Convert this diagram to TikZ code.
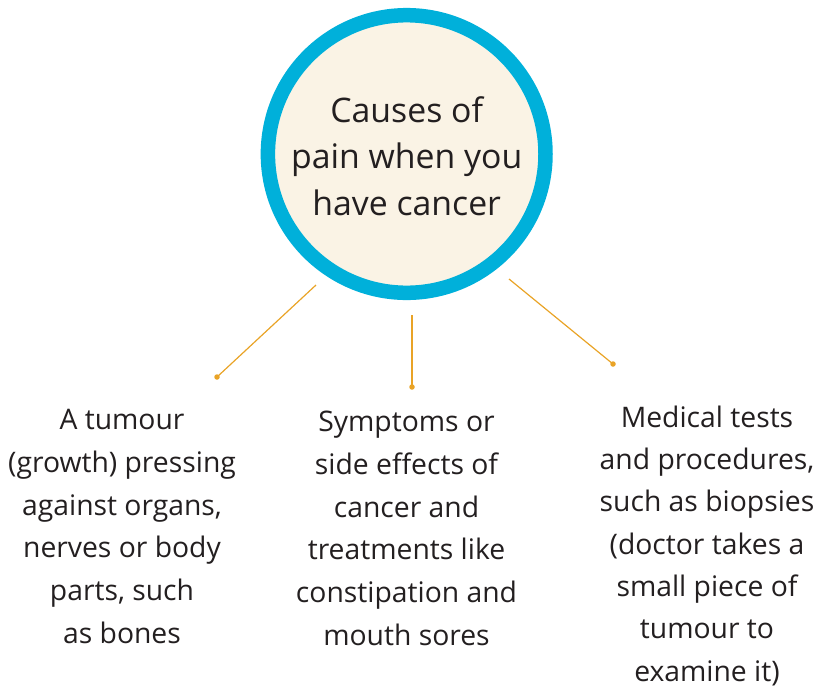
\documentclass[tikz,border=0pt]{standalone}
\usepackage{fontspec}
\setmainfont{Open Sans}
\definecolor{ringblue}{HTML}{00B0DA}
\definecolor{cream}{HTML}{FAF3E5}
\definecolor{linegold}{HTML}{E9A326}
\definecolor{txt}{HTML}{231F20}
\begin{document}
\begin{tikzpicture}[x=1pt,y=-1pt,
  hub/.style={circle,draw=ringblue,line width=14.5pt,fill=cream,minimum size=277.6pt,inner sep=0pt,
    text=txt,align=center,font=\fontsize{33.8}{46.5}\selectfont},
  leaf/.style={anchor=north,inner sep=0pt,align=center,text=txt,font=\fontsize{28.3}{42.9}\selectfont},
  tightleaf/.style={leaf,font=\fontsize{28.3}{42.3}\selectfont},
  link/.style={draw=linegold,line width=1.2pt},
  tip/.style={circle,fill=linegold,inner sep=0pt,minimum size=5.5pt}]
\useasboundingbox (0,0) rectangle (820,689);
\node[hub] (hub) at (406.7,154) {\rule{0pt}{30pt}Causes of\\pain when you\\have cancer};
\node[leaf] (l) at (122,399) {\rule{0pt}{30pt}A tumour\\(growth) pressing\\against organs,\\nerves or body\\parts, such\\as bones};
\node[leaf] (m) at (406.5,401) {\rule{0pt}{30pt}Symptoms or\\side effects of\\cancer and\\treatments like\\constipation and\\mouth sores};
\node[tightleaf] (r) at (707,397) {\rule{0pt}{30pt}Medical tests\\and procedures,\\such as biopsies\\(doctor takes a\\small piece of\\tumour to\\examine it)};
\coordinate (ls) at (316,285);
\coordinate (ms) at (412,315);
\coordinate (rs) at (509,279);
\node[tip] (lt) at (217,377) {};
\node[tip] (mt) at (412,387) {};
\node[tip] (rt) at (613,364) {};
\draw[link] (ls) -- (lt.center);
\draw[link] (ms) -- (mt.center);
\draw[link] (rs) -- (rt.center);
\end{tikzpicture}
\end{document}
